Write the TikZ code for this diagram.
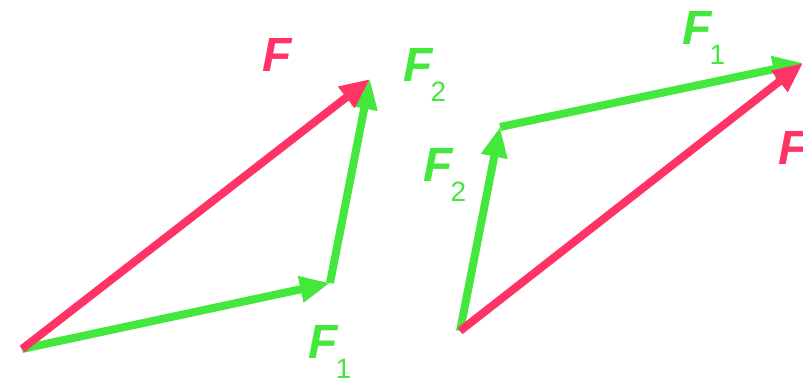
\documentclass[tikz,border=0pt]{standalone}
\usepackage{fontspec}
\setmainfont{Liberation Sans}
\usetikzlibrary{arrows.meta}

\definecolor{resultred}{RGB}{255,51,102}
\definecolor{partgreen}{RGB}{68,232,60}

\tikzset{
  force/.style={line width=8pt, -{Triangle[length=30pt,width=25pt]}},
  flabel/.style={anchor=base west, inner sep=0pt, font=\fontsize{48}{48}\selectfont\bfseries\itshape}
}
\newcommand{\fsub}[1]{F\kern-2pt\raisebox{-20pt}{\fontsize{28}{28}\selectfont\mdseries\upshape #1}}

\begin{document}
\begin{tikzpicture}[x=1pt,y=-1pt]

\useasboundingbox (0,0) rectangle (803,379);
\clip (0,0) rectangle (803,379);

% Points of the left triangle
\coordinate (O1) at (22,349);
\coordinate (A1) at (330,283);
\coordinate (B1) at (370,79);

% Points of the right triangle
\coordinate (O2) at (460,331);
\coordinate (A2) at (500,127);
\coordinate (B2) at (803,63);

% Left: F1 then F2
\draw[force,partgreen] (O1) -- (A1);
\draw[force,partgreen] (A1) -- (B1);
\draw[force,resultred] (O1) -- (B1);

% Right: F2 then F1
\draw[force,partgreen] (O2) -- (A2);
\draw[force,partgreen] (A2) -- (B2);
\draw[force,resultred] (O2) -- (B2);

% Labels
\node[flabel,resultred] (lF) at (262,72) {F};
\node[flabel,partgreen] (lF2) at (403,82) {\fsub{2}};
\node[flabel,partgreen] (lF1) at (308,358) {\fsub{1}};
\node[flabel,partgreen] (rF2) at (423,182) {\fsub{2}};
\node[flabel,partgreen] (rF1) at (682,45) {\fsub{1}};
\node[flabel,resultred] (rF) at (778,165) {F};

\end{tikzpicture}
\end{document}
